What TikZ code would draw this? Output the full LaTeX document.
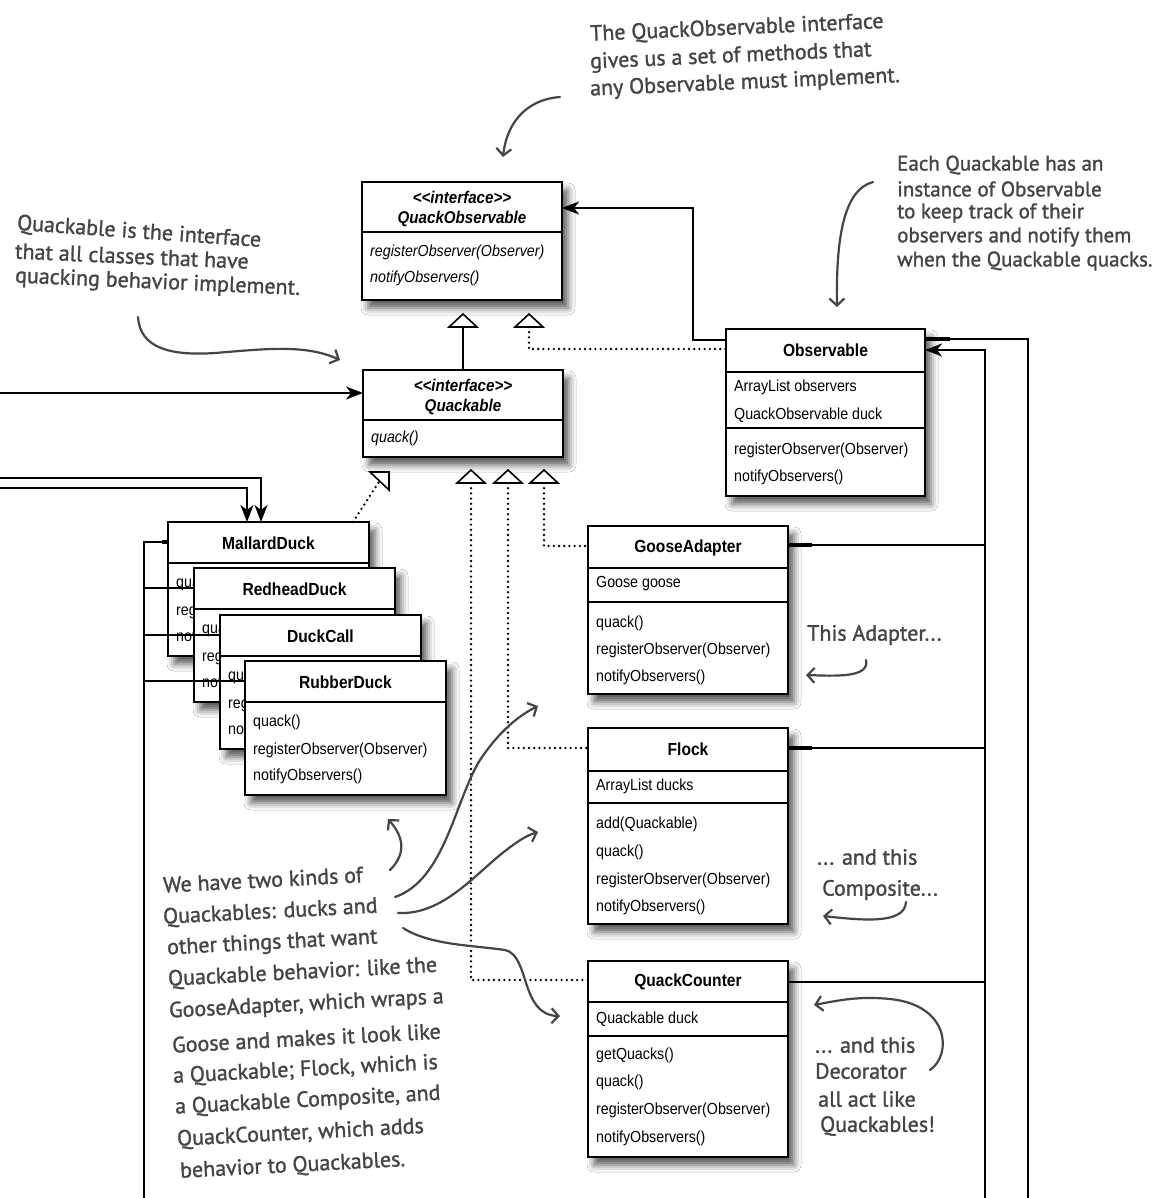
\documentclass[tikz,border=0pt]{standalone}
\usepackage{fontspec}
\setmainfont{Liberation Sans}[FakeStretch=0.89]
\newfontfamily\handfont{PT Sans}[FakeBold=1.3]
\usetikzlibrary{arrows.meta,shadows.blur,calc}
\definecolor{hgray}{gray}{0.27}
\tikzset{
 clsbox/.style={draw=black, line width=1.1pt, fill=white, inner sep=0pt, outer sep=0pt, anchor=north west,
   blur shadow={shadow xshift=6pt, shadow yshift=-8pt, shadow blur radius=7pt, shadow opacity=65}},
 ttlb/.style={font=\fontsize{17.5}{19}\selectfont\bfseries, inner sep=0pt},
 ittlb/.style={font=\fontsize{17}{19}\selectfont\bfseries\itshape, inner sep=0pt},
 rowt/.style={font=\fontsize{16}{19}\selectfont, anchor=west, inner sep=0pt},
 irowt/.style={font=\fontsize{16}{19}\selectfont\itshape, anchor=west, inner sep=0pt},
 divl/.style={line width=1.1pt},
 connl/.style={line width=2.2pt, draw=black},
 arrowin/.style={-{Stealth[length=17pt,width=13pt,inset=5pt]}},
 dotl/.style={line width=2.6pt, dash pattern=on 0pt off 5.2pt, line cap=round},
 trishape/.style={draw=black, line width=1.6pt, fill=white, line join=miter},
 handt/.style={font=\handfont\fontsize{22}{24}\selectfont, text=hgray, inner sep=0pt, anchor=west},
 handsm/.style={font=\handfont\fontsize{21}{24}\selectfont, text=hgray, inner sep=0pt, anchor=west},
 notearr/.style={draw=hgray, line width=2.2pt, line cap=round, -{Straight Barb[length=7pt,width=15pt]}},
}
\newcommand\duckbox[4]{%
 \node[clsbox, minimum width=201pt, minimum height=134pt] (#1) at (#2,#3) {};
 \node[ttlb] (#1-t) at ([yshift=-21pt]#1.north) {#4};
 \draw[divl] ([yshift=-41pt]#1.north west) -- ([yshift=-41pt]#1.north east);
 \node[rowt] (#1-a) at ([xshift=8pt,yshift=-61pt]#1.north west) {quack()};
 \node[rowt] (#1-b) at ([xshift=8pt,yshift=-89pt]#1.north west) {registerObserver(Observer)};
 \node[rowt] (#1-c) at ([xshift=8pt,yshift=-115pt]#1.north west) {notifyObservers()};
}
\begin{document}
\begin{tikzpicture}[x=1pt,y=-1pt]
\fill[white] (0,0) rectangle (1168,1198);
\useasboundingbox (0,0) rectangle (1168,1198);

% ---------- QuackObservable ----------
\node[clsbox, minimum width=200pt, minimum height=118pt] (qo) at (362,182) {};
\node[ittlb] (qo-s) at ([yshift=-15pt]qo.north) {<\kern0pt<interface>\kern0pt>};
\node[ittlb] (qo-n) at ([yshift=-37pt]qo.north) {QuackObservable};
\draw[divl] ([yshift=-50pt]qo.north west) -- ([yshift=-50pt]qo.north east);
\node[irowt] (qo-r) at ([xshift=8pt,yshift=-70pt]qo.north west) {registerObserver(Observer)};
\node[irowt] (qo-o) at ([xshift=8pt,yshift=-96pt]qo.north west) {notifyObservers()};

% ---------- Quackable ----------
\node[clsbox, minimum width=200pt, minimum height=87pt] (qk) at (363,370) {};
\node[ittlb] (qk-s) at ([yshift=-15pt]qk.north) {<\kern0pt<interface>\kern0pt>};
\node[ittlb] (qk-n) at ([yshift=-37pt]qk.north) {Quackable};
\draw[divl] ([yshift=-50pt]qk.north west) -- ([yshift=-50pt]qk.north east);
\node[irowt] (qk-q) at ([xshift=8pt,yshift=-68pt]qk.north west) {quack()};

% ---------- Observable ----------
\node[clsbox, minimum width=199pt, minimum height=167pt] (obs) at (726,329) {};
\node[ttlb] (obs-t) at ([yshift=-21pt]obs.north) {Observable};
\draw[divl] ([yshift=-43pt]obs.north west) -- ([yshift=-43pt]obs.north east);
\node[rowt] (obs-a) at ([xshift=8pt,yshift=-58pt]obs.north west) {ArrayList observers};
\node[rowt] (obs-b) at ([xshift=8pt,yshift=-86pt]obs.north west) {QuackObservable duck};
\draw[divl] ([yshift=-99pt]obs.north west) -- ([yshift=-99pt]obs.north east);
\node[rowt] (obs-c) at ([xshift=8pt,yshift=-121pt]obs.north west) {registerObserver(Observer)};
\node[rowt] (obs-d) at ([xshift=8pt,yshift=-148pt]obs.north west) {notifyObservers()};

% ---------- Ducks ----------
\duckbox{md}{168}{522}{MallardDuck}
\duckbox{rh}{194}{568}{RedheadDuck}
\duckbox{dc}{220}{615}{DuckCall}
\duckbox{rb}{245}{661}{RubberDuck}

% ---------- GooseAdapter ----------
\node[clsbox, minimum width=200pt, minimum height=168pt] (ga) at (588,526) {};
\node[ttlb] (ga-t) at ([yshift=-22pt]ga.north) {GooseAdapter};
\draw[divl] ([yshift=-42pt]ga.north west) -- ([yshift=-42pt]ga.north east);
\node[rowt] (ga-a) at ([xshift=8pt,yshift=-58pt]ga.north west) {Goose goose};
\draw[divl] ([yshift=-76pt]ga.north west) -- ([yshift=-76pt]ga.north east);
\node[rowt] (ga-b) at ([xshift=8pt,yshift=-97pt]ga.north west) {quack()};
\node[rowt] (ga-c) at ([xshift=8pt,yshift=-124pt]ga.north west) {registerObserver(Observer)};
\node[rowt] (ga-d) at ([xshift=8pt,yshift=-151pt]ga.north west) {notifyObservers()};

% ---------- Flock ----------
\node[clsbox, minimum width=200pt, minimum height=196pt] (fl) at (588,728) {};
\node[ttlb] (fl-t) at ([yshift=-21pt]fl.north) {Flock};
\draw[divl] ([yshift=-43pt]fl.north west) -- ([yshift=-43pt]fl.north east);
\node[rowt] (fl-a) at ([xshift=8pt,yshift=-58pt]fl.north west) {ArrayList ducks};
\draw[divl] ([yshift=-75pt]fl.north west) -- ([yshift=-75pt]fl.north east);
\node[rowt] (fl-b) at ([xshift=8pt,yshift=-96pt]fl.north west) {add(Quackable)};
\node[rowt] (fl-c) at ([xshift=8pt,yshift=-124pt]fl.north west) {quack()};
\node[rowt] (fl-d) at ([xshift=8pt,yshift=-152pt]fl.north west) {registerObserver(Observer)};
\node[rowt] (fl-e) at ([xshift=8pt,yshift=-179pt]fl.north west) {notifyObservers()};

% ---------- QuackCounter ----------
\node[clsbox, minimum width=200pt, minimum height=196pt] (qc) at (588,961) {};
\node[ttlb] (qc-t) at ([yshift=-21pt]qc.north) {QuackCounter};
\draw[divl] ([yshift=-41pt]qc.north west) -- ([yshift=-41pt]qc.north east);
\node[rowt] (qc-a) at ([xshift=8pt,yshift=-58pt]qc.north west) {Quackable duck};
\draw[divl] ([yshift=-75pt]qc.north west) -- ([yshift=-75pt]qc.north east);
\node[rowt] (qc-b) at ([xshift=8pt,yshift=-94pt]qc.north west) {getQuacks()};
\node[rowt] (qc-c) at ([xshift=8pt,yshift=-121pt]qc.north west) {quack()};
\node[rowt] (qc-d) at ([xshift=8pt,yshift=-149pt]qc.north west) {registerObserver(Observer)};
\node[rowt] (qc-e) at ([xshift=8pt,yshift=-177pt]qc.north west) {notifyObservers()};

% ---------- triangle positions ----------
\coordinate (t1) at (463,314);
\coordinate (t2) at (529,314);
\coordinate (t3) at (471,470);
\coordinate (t4) at (508,470);
\coordinate (t5) at (544,470);
\coordinate (t6) at (389,472);

% ---------- connectors ----------
\draw[connl] (qk.north) -- ([yshift=-13pt]t1);
\draw[dotl] ([yshift=-13pt]t2) |- ([yshift=-20pt]obs.north west);
\draw[dotl] ([yshift=-13pt]t5) |- ([yshift=-20pt]ga.north west);
\draw[dotl] ([yshift=-13pt]t4) |- ([yshift=-20pt]fl.north west);
\draw[dotl] ([yshift=-13pt]t3) |- ([yshift=-19pt]qc.north west);
\draw[dotl] ([xshift=-16pt]md.north east) -- ($(t6)+(-9.5,9)$);

\draw[connl, arrowin] ([yshift=-11pt]obs.north west) -| ([xshift=131pt,yshift=-26pt]qo.north east) -- ([yshift=-26pt]qo.north east);

\coordinate (R1) at (1028,1198);
\coordinate (R2) at (985,1198);
\draw[connl] ([yshift=-10pt]obs.north east) -| (R1);
\draw[connl, arrowin] (R2) |- ([yshift=-21pt]obs.north east);
\draw[line width=3.6pt] ([yshift=-10pt]obs.north east) -- ++(25,0);
\coordinate (gaR) at ([yshift=-19pt]ga.north east);
\coordinate (flR) at ([yshift=-20pt]fl.north east);
\coordinate (qcR) at ([yshift=-21pt]qc.north east);
\draw[connl] (gaR) -- (R2 |- gaR);
\draw[connl] (flR) -- (R2 |- flR);
\draw[connl] (qcR) -- (R2 |- qcR);
\draw[line width=3.6pt] (gaR) -- ++(24,0);
\draw[line width=3.6pt] (flR) -- ++(24,0);

\coordinate (L1) at (0,393);
\coordinate (L2) at (0,478);
\coordinate (L3) at (0,488);
\draw[connl, arrowin] (L1) -- ([yshift=-23pt]qk.north west);
\draw[connl, arrowin] (L2) -| ([xshift=93pt]md.north west);
\draw[connl, arrowin] (L3) -| ([xshift=79pt]md.north west);

\coordinate (B1) at (144,1198);
\coordinate (mdL) at ([yshift=-20pt]md.north west);
\coordinate (rhL) at ([yshift=-20pt]rh.north west);
\coordinate (dcL) at ([yshift=-20pt]dc.north west);
\coordinate (rbL) at ([yshift=-20pt]rb.north west);
\draw[connl] (B1) |- (mdL);
\draw[line width=3.6pt] (mdL) -- ++(-6,0);
\draw[connl] (B1 |- rhL) -- (rhL);
\draw[connl] (B1 |- dcL) -- (dcL);
\draw[connl] (B1 |- rbL) -- (rbL);

% ---------- triangles ----------
\draw[trishape] (t1) -- ++(14,13) -- ++(-28,0) -- cycle;
\draw[trishape] (t2) -- ++(14,13) -- ++(-28,0) -- cycle;
\draw[trishape] (t3) -- ++(14,13) -- ++(-28,0) -- cycle;
\draw[trishape] (t4) -- ++(14,13) -- ++(-28,0) -- cycle;
\draw[trishape] (t5) -- ++(14,13) -- ++(-28,0) -- cycle;
\draw[trishape] (t6) -- ++(-19,0) -- ++(19,18) -- cycle;

% ---------- annotations ----------
\node[handt, rotate=2.5] (n1a) at (590,35) {The QuackObservable interface};
\node[handt, rotate=2.5] (n1b) at (590,63) {gives us a set of methods that};
\node[handt, rotate=2.5] (n1c) at (590,90) {any Observable must implement.};
\draw[notearr] (560,97) .. controls (522,100) and (506,128) .. (503,157);

\node[handsm] (n2a) at (897,165) {Each Quackable has an};
\node[handsm] (n2b) at (897,189) {instance of Observable};
\node[handsm] (n2c) at (897,213) {to keep track of their};
\node[handsm] (n2d) at (897,237) {observers and notify them};
\node[handsm] (n2e) at (897,261) {when the Quackable quacks.};
\draw[notearr] (873,182) .. controls (843,190) and (836,240) .. (837,307);

\node[handt, rotate=-4] (n3a) at (17,224) {Quackable is the interface};
\node[handt, rotate=-2.5] (n3b) at (15,251) {that all classes that have};
\node[handt, rotate=-2.5] (n3c) at (15,277) {quacking behavior implement.};
\draw[notearr] (138,317) .. controls (140,348) and (170,356) .. (215,353) .. controls (265,349) and (305,344) .. (340,360);

\node[handt] (n4) at (807,635) {This Adapter...};
\draw[notearr] (866,660) .. controls (870,678) and (835,676) .. (806,675);

\node[handt] (n5a) at (817,857) {... and this};
\node[handt] (n5b) at (822,890) {Composite...};
\draw[notearr] (906,902) .. controls (905,925) and (860,920) .. (823,916);

\node[handt] (n6a) at (815,1045) {... and this};
\node[handt] (n6b) at (815,1071) {Decorator};
\node[handt] (n6c) at (818,1099) {all act like};
\node[handt] (n6d) at (820,1126) {Quackables!};
\draw[notearr] (930,1070) .. controls (952,1055) and (950,1005) .. (890,999) .. controls (860,996) and (840,1000) .. (814,1005);

\node[handt, rotate=3] (p1) at (163,885) {We have two kinds of};
\node[handt, rotate=3] (p2) at (163,918) {Quackables: ducks and};
\node[handt, rotate=3] (p3) at (167,949) {other things that want};
\node[handt, rotate=3] (p4) at (168,980) {Quackable behavior: like the};
\node[handt, rotate=3] (p5) at (169,1012) {GooseAdapter, which wraps a};
\node[handt, rotate=3] (p6) at (172,1045) {Goose and makes it look like};
\node[handt, rotate=3] (p7) at (173,1077) {a Quackable; Flock, which is};
\node[handt, rotate=3] (p8) at (175,1108) {a Quackable Composite, and};
\node[handt, rotate=3] (p9) at (177,1140) {QuackCounter, which adds};
\node[handt, rotate=3] (p10) at (180,1172) {behavior to Quackables.};

\draw[notearr] (390,870) .. controls (408,852) and (402,835) .. (388,819);
\draw[notearr] (395,897) .. controls (445,880) and (455,800) .. (480,760) .. controls (500,730) and (520,715) .. (538,706);
\draw[notearr] (398,913) .. controls (440,915) and (470,880) .. (500,855) .. controls (515,843) and (525,836) .. (538,832);
\draw[notearr] (403,928) .. controls (430,945) and (470,945) .. (505,950) .. controls (530,955) and (520,1015) .. (560,1016);
\end{tikzpicture}
\end{document}
